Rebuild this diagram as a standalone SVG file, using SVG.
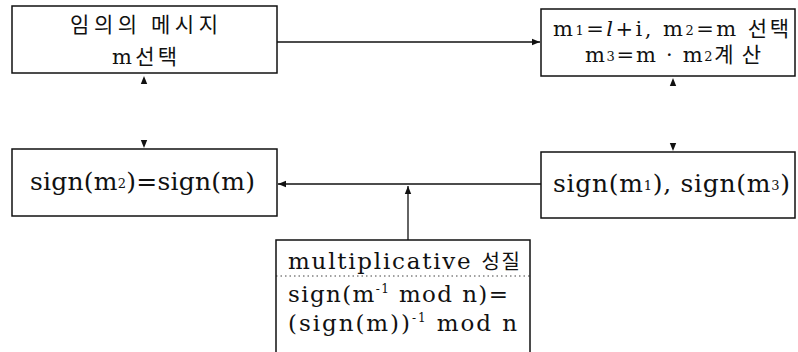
<svg xmlns="http://www.w3.org/2000/svg" width="798" height="352" viewBox="0 0 798 352">
<defs>
<marker id="ah" viewBox="0 0 10 10" refX="10" refY="5" markerWidth="8" markerHeight="8" markerUnits="userSpaceOnUse" orient="auto-start-reverse">
<path d="M0,1 L10,5 L0,9 Z" fill="#111"/>
</marker>
<style>
.box{fill:#fff;stroke:#111;stroke-width:1.5}
.t{font-family:"DejaVu Serif","Noto Sans CJK KR",serif;fill:#111}
.k{font-family:"Noto Sans CJK KR",sans-serif}
.s21{font-size:21px}
.s23{font-size:23px}
.s25{font-size:25px}
.sub{font-size:13px}
.sup{font-size:12px}
.edge{fill:none;stroke:#111;stroke-width:1.3}
.ghost{fill:none;stroke:#111;stroke-opacity:0;stroke-width:1.3}
</style>
</defs>
<rect width="798" height="352" fill="#fff"/>
<g id="connectors">
<path class="edge" d="M277,42 L540,42" marker-end="url(#ah)"/>
<path class="edge" d="M541,184 L278,184" marker-end="url(#ah)"/>
<path class="edge" d="M408,240 L408,186" marker-end="url(#ah)"/>
<path class="ghost" d="M144,76 L144,148" marker-start="url(#ah)" marker-end="url(#ah)"/>
<path class="ghost" d="M673,78 L673,151" marker-start="url(#ah)" marker-end="url(#ah)"/>
</g>
<g id="node-select-m">
<rect class="box" x="12" y="6" width="265" height="67"/>
<text class="t k s21" x="70" y="32" textLength="148" lengthAdjust="spacing">임의의 메시지</text>
<text class="t s21" x="112" y="64" textLength="65" lengthAdjust="spacing">m<tspan class="k">선택</tspan></text>
</g>
<g id="node-compute">
<rect class="box" x="541" y="9" width="254" height="67"/>
<text class="t s21" x="553" y="36" textLength="236" lengthAdjust="spacing">m<tspan class="sub" dy="-1">1</tspan><tspan dy="1">=</tspan><tspan font-style="italic">l</tspan>+i, m<tspan class="sub" dy="-1">2</tspan><tspan dy="1">=m </tspan><tspan class="k">선택</tspan></text>
<text class="t s21" x="585" y="62" textLength="176" lengthAdjust="spacing">m<tspan class="sub" dy="-1">3</tspan><tspan dy="1">=m · m</tspan><tspan class="sub" dy="-1">2</tspan><tspan class="k" dy="1">계 산</tspan></text>
</g>
<g id="node-sign-m2">
<rect class="box" x="12" y="149" width="265" height="67"/>
<text class="t s25" x="30" y="190" textLength="225" lengthAdjust="spacing">sign(m<tspan class="sub" dy="-2">2</tspan><tspan dy="2">)=sign(m)</tspan></text>
</g>
<g id="node-sign-m1-m3">
<rect class="box" x="541" y="152" width="254" height="66"/>
<text class="t s25" x="553" y="192" textLength="237" lengthAdjust="spacing">sign(m<tspan class="sub" dy="-2">1</tspan><tspan dy="2">), sign(m</tspan><tspan class="sub" dy="-2">3</tspan><tspan dy="2">)</tspan></text>
</g>
<g id="node-multiplicative">
<rect class="box" x="276" y="240" width="254" height="120"/>
<line x1="276" y1="276" x2="530" y2="276" stroke="#111" stroke-width="0.8" stroke-dasharray="1.5,3"/>
<text class="t s23" x="288" y="269" textLength="232" lengthAdjust="spacing">multiplicative <tspan class="k" style="font-size:20px">성질</tspan></text>
<text class="t s23" x="288" y="302" textLength="220" lengthAdjust="spacing">sign(m<tspan class="sup" dy="-9">-1</tspan><tspan dy="9"> mod n)=</tspan></text>
<text class="t s23" x="288" y="331" textLength="229" lengthAdjust="spacing">(sign(m))<tspan class="sup" dy="-9">-1</tspan><tspan dy="9"> mod n</tspan></text>
</g>
</svg>
